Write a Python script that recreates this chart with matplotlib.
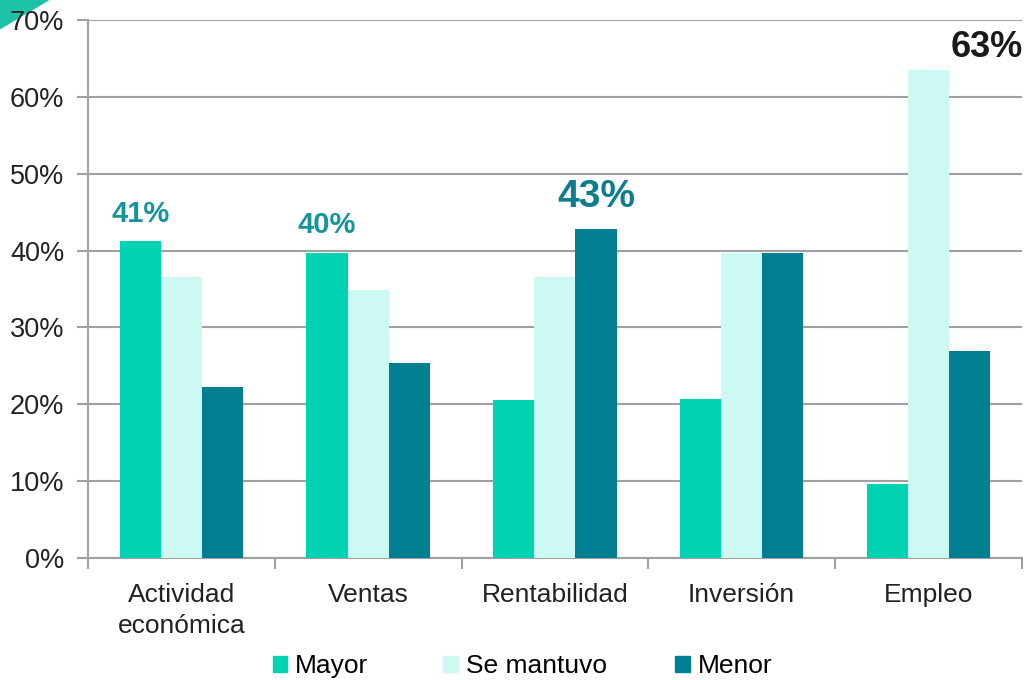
import matplotlib.pyplot as plt
import numpy as np
from matplotlib.patches import Polygon, Patch

plt.rcParams['font.family'] = ['Liberation Sans', 'DejaVu Sans']

categorias = ["Actividad\neconómica", "Ventas", "Rentabilidad", "Inversión", "Empleo"]
series = ["Mayor", "Se mantuvo", "Menor"]
mayor = [41.2, 39.7, 20.6, 20.7, 9.6]
se_mantuvo = [36.6, 34.9, 36.6, 39.7, 63.5]
menor = [22.2, 25.4, 42.8, 39.7, 26.9]
colores = ["#00D3B1", "#CCFAF3", "#007F93"]

fig = plt.figure(figsize=(10.29, 6.8), dpi=100)
ax = fig.add_axes([0.0855, 0.1794, 0.9075, 0.7912])

x = np.arange(len(categorias))
w = 0.22
for i, (vals, c, nombre) in enumerate(zip([mayor, se_mantuvo, menor], colores, series)):
    ax.bar(x + (i - 1) * w, vals, width=w, color=c, label=nombre, zorder=3)

ax.set_ylim(0, 70)
ax.set_xlim(-0.5, len(categorias) - 0.5)
ax.set_yticks(np.arange(0, 71, 10))
ax.set_yticklabels([f"{v}%" for v in range(0, 71, 10)], fontsize=19.5, color="#222222")
ax.yaxis.grid(True, color="#A0A0A0", linewidth=1.5, zorder=0)
ax.set_xticks(x)
ax.set_xticklabels(categorias, fontsize=19, color="#222222", linespacing=1.35)
ax.tick_params(axis='x', length=0, pad=18)
ax.set_xticks(np.arange(-0.5, len(categorias), 1), minor=True)
ax.tick_params(axis='x', which='minor', length=8, color="#A0A0A0", width=1.5)
ax.tick_params(axis='y', length=8, color="#A0A0A0", width=1.5, pad=9)
for s in ['top', 'right']:
    ax.spines[s].set_visible(False)
for s in ['left', 'bottom']:
    ax.spines[s].set_color("#A0A0A0")
    ax.spines[s].set_linewidth(1.5)

# etiquetas destacadas
ax.text(x[0] - w, mayor[0] + 2.5, "41%", ha='center', fontsize=21, fontweight='bold', color="#16949C")
ax.text(x[1] - w, mayor[1] + 2.6, "40%", ha='center', fontsize=21, fontweight='bold', color="#16949C")
ax.text(x[2] + w, menor[2] + 2.9, "43%", ha='center', fontsize=28, fontweight='bold', color="#0E7E8C")
ax.text(x[4] + 1.43 * w, se_mantuvo[4] + 1.7, "63%", ha='center', fontsize=26, fontweight='bold',
        color="#1A1A1A", clip_on=False)

# leyenda
posiciones = [0.265, 0.431, 0.656]
for nombre, c, px in zip(series, colores, posiciones):
    fig.legend(handles=[Patch(color=c, label=nombre)], loc='center left',
               bbox_to_anchor=(px, 0.02), frameon=False, fontsize=19,
               handlelength=0.55, handleheight=0.55, handletextpad=0.3,
               borderpad=0, borderaxespad=0)

# esquina decorativa
fig.patches.append(Polygon([[0, 1], [0.047, 1], [0, 0.958]], closed=True,
                           transform=fig.transFigure, color="#1CC3A6", zorder=-1))

fig.savefig("out.png", dpi=100)
